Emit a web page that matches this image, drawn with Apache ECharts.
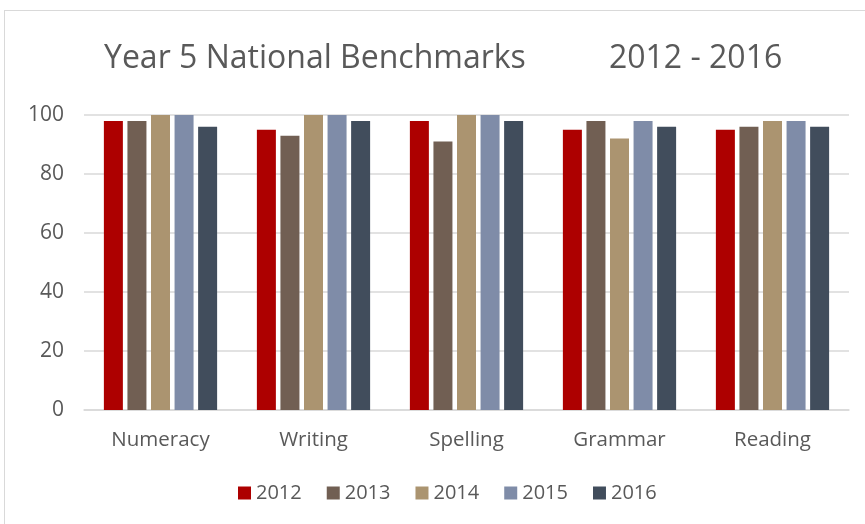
<!DOCTYPE html>
<html>
<head>
    <meta charset="utf-8">
    <title>Year 5 National Benchmarks</title>
    <style type="text/css">
        html, body { margin: 0; padding: 0; background: #ffffff; }
        #frame {
            position: absolute; left: 4px; top: 10px; width: 866px; height: 520px;
            border: 1px solid #d9d9d9; box-sizing: border-box;
        }
        #chart { position: absolute; left: 0; top: 0; width: 865px; height: 524px; }
    </style>
    <script src="https://cdn.jsdelivr.net/npm/echarts@6/dist/echarts.min.js"></script>
</head>
<body>
<div id="frame"></div>
<div id="chart"></div>
<script>
    // data
    var subjects = ['Numeracy', 'Writing', 'Spelling', 'Grammar', 'Reading'];
    var years = ['2012', '2013', '2014', '2015', '2016'];
    var v2012 = [98, 95, 98, 95, 95];
    var v2013 = [98, 93, 91, 98, 96];
    var v2014 = [100, 100, 100, 92, 98];
    var v2015 = [100, 100, 100, 98, 98];
    var v2016 = [96, 98, 98, 96, 96];
    var yTicks = [0, 20, 40, 60, 80, 100];

    var colors = ['#ad0000', '#715f53', '#ab9470', '#7f8ca8', '#414d5c'];
    var values = [v2012, v2013, v2014, v2015, v2016];

    var series = [];
    for (var i = 0; i < years.length; i++) {
        series.push({
            name: years[i],
            type: 'bar',
            data: values[i],
            barWidth: 19,
            barGap: '24%',
            itemStyle: { color: colors[i] }
        });
    }

    var myChart = echarts.init(document.getElementById('chart'), null, { renderer: 'canvas' });

    var option = {
        animation: false,
        color: colors,
        title: {
            text: 'Year 5 National Benchmarks          2012 - 2016',
            left: 99,
            top: 38,
            textStyle: {
                color: '#595959',
                fontFamily: 'Open Sans',
                fontWeight: 'normal',
                fontSize: 32
            }
        },
        legend: {
            bottom: 16,
            left: 233,
            itemWidth: 13,
            itemHeight: 13,
            itemGap: 25,
            icon: 'rect',
            textStyle: { color: '#595959', fontFamily: 'Open Sans', fontSize: 20 },
            data: years
        },
        grid: {
            left: 84,
            right: 16,
            top: 115,
            bottom: 114,
            containLabel: false
        },
        xAxis: {
            type: 'category',
            data: subjects,
            axisTick: { show: false },
            axisLine: { lineStyle: { color: '#d9d9d9', width: 1.5 } },
            axisLabel: { color: '#595959', fontFamily: 'Open Sans', fontSize: 20.5, margin: 20 }
        },
        yAxis: {
            type: 'value',
            min: yTicks[0],
            max: yTicks[yTicks.length - 1],
            interval: 20,
            axisLine: { show: false },
            axisTick: { show: false },
            axisLabel: { color: '#595959', fontFamily: 'Open Sans', fontSize: 21, margin: 20 },
            splitLine: { lineStyle: { color: '#d9d9d9', width: 1.5 } }
        },
        series: series
    };

    myChart.setOption(option);
</script>
</body>
</html>
